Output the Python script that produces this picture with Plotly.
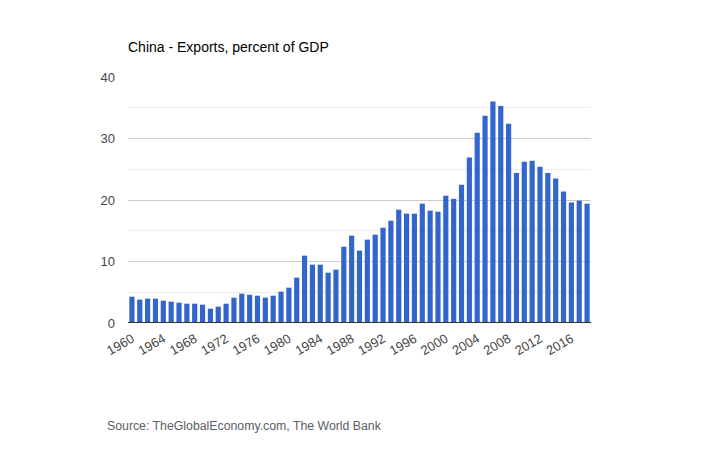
import plotly.graph_objects as go

years = list(range(1960, 2019))
exports_pct_gdp = [
    4.28, 3.80, 3.96, 3.96, 3.63, 3.47, 3.30, 3.14, 3.14, 2.98,
    2.33, 2.66, 3.14, 4.12, 4.77, 4.60, 4.44, 4.12, 4.44, 5.10,
    5.75, 7.37, 10.95, 9.49, 9.49, 8.18, 8.67, 12.41, 14.20, 11.76,
    13.55, 14.36, 15.50, 16.64, 18.43, 17.78, 17.78, 19.40, 18.27, 18.10,
    20.70, 20.20, 22.50, 26.90, 30.95, 33.70, 36.00, 35.30, 32.40, 24.40,
    26.20, 26.40, 25.40, 24.40, 23.50, 21.40, 19.60, 19.90, 19.40,
]
tick_years = list(range(1960, 2019, 4))
y_ticks = [0, 10, 20, 30, 40]

# page body has an 8px margin, so shift everything up-left by 8px
OFF = 8
L, T, PW, PH = 128 - OFF, 77 - OFF, 463, 246

fig = go.Figure()
fig.add_trace(go.Bar(
    x=years,
    y=exports_pct_gdp,
    marker=dict(color="#3366cc", line=dict(width=0)),
    hovertemplate="%{x}: %{y}<extra></extra>",
))

fig.update_layout(
    width=720,
    height=450,
    paper_bgcolor="white",
    plot_bgcolor="white",
    margin=dict(l=L, r=720 - L - PW, t=T, b=450 - T - PH),
    bargap=0.34,
    showlegend=False,
    font=dict(family="Liberation Sans, Arial, sans-serif", color="#444444", size=13),
    title=dict(
        text="China - Exports, percent of GDP",
        x=(128 - OFF) / 720, xanchor="left",
        y=1 - (47 - OFF) / 450, yanchor="middle",
        font=dict(size=14, color="#000000"),
    ),
    xaxis=dict(
        range=[1959.5, 2018.5],
        tickmode="array",
        tickvals=tick_years,
        ticktext=[str(t) for t in tick_years],
        tickangle=-30,
        showgrid=False,
        zeroline=False,
        showline=False,
        ticks="",
        automargin=False,
        ticklabelstandoff=5,
        tickfont=dict(size=13, color="#444444"),
    ),
    yaxis=dict(
        range=[0, 40],
        tickmode="array",
        tickvals=y_ticks,
        showgrid=True,
        gridcolor="#cccccc",
        gridwidth=1,
        zeroline=False,
        showline=False,
        ticks="",
        automargin=False,
        ticklabelstandoff=12,
        tickfont=dict(size=13, color="#444444"),
        minor=dict(dtick=5, tick0=0, showgrid=True, gridcolor="#ebebeb", gridwidth=1),
    ),
    shapes=[dict(
        type="line", xref="paper", yref="y",
        x0=0, x1=1, y0=0, y1=0,
        line=dict(color="#333333", width=2),
    )],
    annotations=[dict(
        text="Source: TheGlobalEconomy.com, The World Bank",
        xref="paper", yref="paper",
        x=(105 - 128) / PW, xanchor="left",
        y=-(426 - 323) / PH, yanchor="middle",
        showarrow=False,
        font=dict(size=12.3, color="#5a6068"),
    )],
)

fig.write_html("out.html")
